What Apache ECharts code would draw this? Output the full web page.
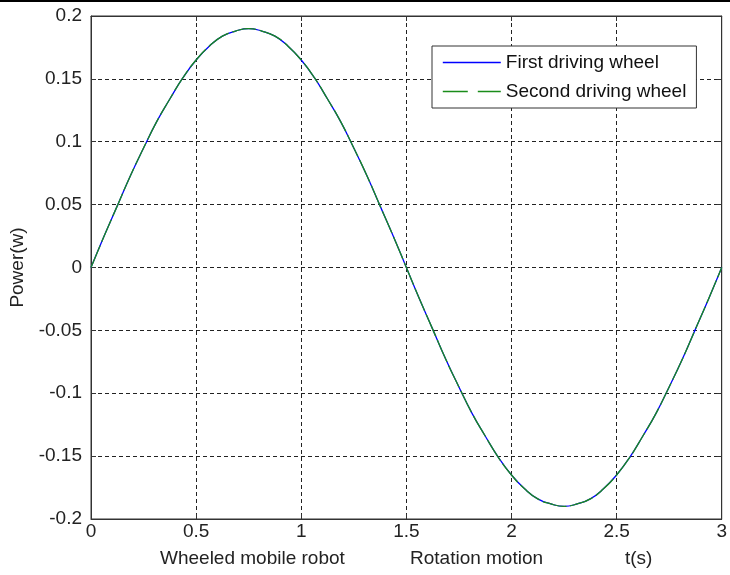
<!DOCTYPE html>
<html>
<head>
<meta charset="utf-8">
<script src="https://cdn.jsdelivr.net/npm/echarts@6/dist/echarts.min.js"></script>
<style>
    html, body { margin: 0; padding: 0; background: #fff; }
    #main { width: 730px; height: 575px; }
</style>
</head>
<body>
<div id="main"></div>
<script>
    // time axis (s)
    var tList = [0, 0.0625, 0.125, 0.1875, 0.25, 0.3125, 0.375, 0.4375, 0.5, 0.5625, 0.625, 0.6875, 0.75,
                 0.8125, 0.875, 0.9375, 1, 1.0625, 1.125, 1.1875, 1.25, 1.3125, 1.375, 1.4375, 1.5,
                 1.5625, 1.625, 1.6875, 1.75, 1.8125, 1.875, 1.9375, 2, 2.0625, 2.125, 2.1875, 2.25,
                 2.3125, 2.375, 2.4375, 2.5, 2.5625, 2.625, 2.6875, 2.75, 2.8125, 2.875, 2.9375, 3];
    // power of each driving wheel (w)
    var firstWheel = [0, 0.025, 0.049, 0.073, 0.095, 0.116, 0.134, 0.151, 0.165, 0.176, 0.184, 0.188, 0.19,
                      0.188, 0.184, 0.176, 0.165, 0.151, 0.134, 0.116, 0.095, 0.073, 0.049, 0.025, 0,
                      -0.025, -0.049, -0.073, -0.095, -0.116, -0.134, -0.151, -0.165, -0.176, -0.184, -0.188, -0.19,
                      -0.188, -0.184, -0.176, -0.165, -0.151, -0.134, -0.116, -0.095, -0.073, -0.049, -0.025, 0];
    var secondWheel = [0, 0.025, 0.049, 0.073, 0.095, 0.116, 0.134, 0.151, 0.165, 0.176, 0.184, 0.188, 0.19,
                       0.188, 0.184, 0.176, 0.165, 0.151, 0.134, 0.116, 0.095, 0.073, 0.049, 0.025, 0,
                       -0.025, -0.049, -0.073, -0.095, -0.116, -0.134, -0.151, -0.165, -0.176, -0.184, -0.188, -0.19,
                       -0.188, -0.184, -0.176, -0.165, -0.151, -0.134, -0.116, -0.095, -0.073, -0.049, -0.025, 0];
    var seriesNames = ['First driving wheel', 'Second driving wheel'];
    var bottomTexts = ['Wheeled mobile robot', 'Rotation motion', 't(s)'];

    function pairs(xs, ys) {
        var out = [];
        for (var i = 0; i < xs.length; i++) {
            out.push([xs[i], ys[i]]);
        }
        return out;
    }

    var font = '"Liberation Sans", Arial, sans-serif';
    var fs = 19;
    var gridLine = { show: true, lineStyle: { color: '#222', type: [4, 3], width: 1 } };
    var boxAxisLine = { show: true, onZero: false, lineStyle: { color: '#333' } };
    var boxTick = { show: true, inside: true, length: 5, lineStyle: { color: '#333' } };

    var chart = echarts.init(document.getElementById('main'));
    var option = {
        animation: false,
        backgroundColor: '#fff',
        grid: {
            left: 91, right: 6, top: 16, bottom: 56,
            show: true, borderColor: '#333', borderWidth: 1
        },
        legend: {
            orient: 'vertical',
            left: 432, top: 46,
            padding: [7, 10, 7, 10],
            itemGap: 10,
            itemWidth: 58, itemHeight: 20,
            backgroundColor: '#fff',
            borderColor: '#333', borderWidth: 1, borderRadius: 0,
            itemStyle: { opacity: 0 },
            textStyle: { fontFamily: font, fontSize: fs, color: '#111' },
            data: [
                { name: seriesNames[0], itemStyle: { opacity: 0 }, lineStyle: { width: 1.6 } },
                { name: seriesNames[1], itemStyle: { opacity: 0 }, lineStyle: { width: 1.6, type: [25, 10] } }
            ]
        },
        xAxis: [
            {
                type: 'value', min: 0, max: 3, interval: 0.5,
                axisLine: boxAxisLine,
                axisTick: boxTick,
                axisLabel: { fontFamily: font, fontSize: fs, color: '#222', margin: 3 },
                splitLine: gridLine
            },
            {
                type: 'value', position: 'top', min: 0, max: 3, interval: 0.5,
                axisLine: boxAxisLine,
                axisTick: boxTick,
                axisLabel: { show: false },
                splitLine: { show: false }
            }
        ],
        yAxis: [
            {
                type: 'value', min: -0.2, max: 0.2, interval: 0.05,
                name: 'Power(w)', nameLocation: 'middle', nameGap: 64,
                nameTextStyle: { fontFamily: font, fontSize: fs, color: '#222' },
                axisLine: boxAxisLine,
                axisTick: boxTick,
                axisLabel: { fontFamily: font, fontSize: fs, color: '#222', margin: 9 },
                splitLine: gridLine
            },
            {
                type: 'value', position: 'right', min: -0.2, max: 0.2, interval: 0.05,
                axisLine: boxAxisLine,
                axisTick: boxTick,
                axisLabel: { show: false },
                splitLine: { show: false }
            }
        ],
        series: [
            {
                name: seriesNames[0],
                type: 'line',
                smooth: true,
                symbol: 'none',
                lineStyle: { color: '#0000ff', width: 1.3 },
                itemStyle: { color: '#0000ff' },
                data: pairs(tList, firstWheel)
            },
            {
                name: seriesNames[1],
                type: 'line',
                smooth: true,
                symbol: 'none',
                lineStyle: { color: '#1a8c1a', width: 1.3, type: [24, 4] },
                itemStyle: { color: '#1a8c1a' },
                data: pairs(tList, secondWheel)
            }
        ],
        graphic: [
            { type: 'rect', left: 0, top: 0, shape: { width: 730, height: 2 }, style: { fill: '#000' } },
            { type: 'text', left: 160, top: 549, style: { text: bottomTexts[0], font: fs + 'px ' + font, fill: '#222' } },
            { type: 'text', left: 410, top: 549, style: { text: bottomTexts[1], font: fs + 'px ' + font, fill: '#222' } },
            { type: 'text', left: 625, top: 549, style: { text: bottomTexts[2], font: fs + 'px ' + font, fill: '#222' } }
        ]
    };
    chart.setOption(option, true);
</script>
</body>
</html>
